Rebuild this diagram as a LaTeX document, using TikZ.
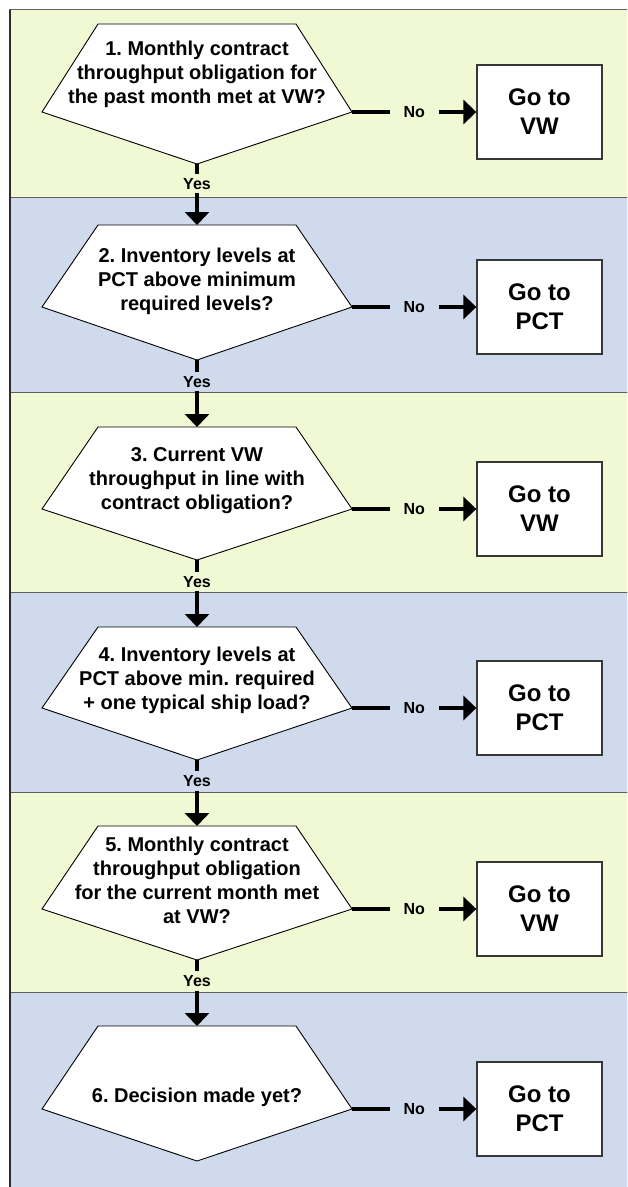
\documentclass[tikz,border=0pt]{standalone}
\usepackage{fontspec}
\setmainfont{Liberation Sans}
\usetikzlibrary{arrows.meta}
\definecolor{pgreen}{RGB}{240,249,211}
\definecolor{pblue}{RGB}{207,219,236}
\definecolor{frameline}{RGB}{95,95,95}
\definecolor{boxline}{RGB}{55,55,55}
\frenchspacing
\newcommand\decisionpanel[6]{%
  \draw[decision] (98,#2) -- (296,#2) -- (352,#3) -- (197,#4) -- (42,#3) -- cycle;
  \coordinate (#1-t) at (197,#2);
  \coordinate (#1-r) at (352,#3);
  \coordinate (#1-b) at (197,#4);
  \node[qtext] (#1) at (197,#5) {#6};
}
\begin{document}
\begin{tikzpicture}[x=1pt,y=-1pt,
  panel/.style={draw=frameline,line width=1.5pt},
  decision/.style={draw=black,fill=white,line width=0.9pt,line join=miter},
  qtext/.style={align=center,font=\fontsize{20}{24}\selectfont\bfseries,inner sep=0pt},
  gobox/.style={draw=boxline,fill=white,line width=1.3pt,minimum width=125pt,minimum height=94pt,inner sep=0pt,align=center,font=\fontsize{24}{29}\selectfont\bfseries},
  conn/.style={line width=4.5pt,-{Triangle[width=24pt,length=13pt]}},
  lbl/.style={font=\fontsize{16}{19}\selectfont\bfseries,inner xsep=14pt,inner ysep=4pt,text height=11.5pt,text depth=0pt},
]
\useasboundingbox (0,0) rectangle (627,1187);
\clip (0,0) rectangle (627,1187);
\fill[white] (0,0) rectangle (627,1187);
% panels
\filldraw[panel,fill=pgreen] (9.5,9.5) rectangle (660,197.7);
\filldraw[panel,fill=pblue] (9.5,197.7) rectangle (660,392.7);
\filldraw[panel,fill=pgreen] (9.5,392.7) rectangle (660,592.7);
\filldraw[panel,fill=pblue] (9.5,592.7) rectangle (660,792.7);
\filldraw[panel,fill=pgreen] (9.5,792.7) rectangle (660,992.7);
\filldraw[panel,fill=pblue] (9.5,992.7) rectangle (660,1220);
\draw[line width=2pt,draw={rgb,255:red,45;green,45;blue,45}] (9.5,9.5) -- (9.5,1220);
% decisions
\decisionpanel{d1}{24}{112}{164}{74}{1. Monthly contract\\throughput obligation for\\the past month met at VW?}
\decisionpanel{d2}{225}{307}{360}{281}{2. Inventory levels at\\PCT above minimum\\required levels?}
\decisionpanel{d3}{427}{509}{560}{481}{3. Current VW\\throughput in line with\\contract obligation?}
\decisionpanel{d4}{627}{708}{760}{680}{4. Inventory levels at\\PCT above min. required\\+ one typical ship load?}
\decisionpanel{d5}{826}{909}{960}{880}{5. Monthly contract\\throughput obligation\\for the current month met\\at VW?}
\decisionpanel{d6}{1026}{1109}{1161}{1097}{6. Decision made yet?}
% boxes
\node[gobox] (g1) at (539.5,112) {Go to\\VW};
\node[gobox] (g2) at (539.5,307) {Go to\\PCT};
\node[gobox] (g3) at (539.5,509) {Go to\\VW};
\node[gobox] (g4) at (539.5,708) {Go to\\PCT};
\node[gobox] (g5) at (539.5,909) {Go to\\VW};
\node[gobox] (g6) at (539.5,1109) {Go to\\PCT};
% No connectors
\draw[conn] (d1-r) -- node[lbl,fill=pgreen]{No} (g1.west);
\draw[conn] (d2-r) -- node[lbl,fill=pblue]{No} (g2.west);
\draw[conn] (d3-r) -- node[lbl,fill=pgreen]{No} (g3.west);
\draw[conn] (d4-r) -- node[lbl,fill=pblue]{No} (g4.west);
\draw[conn] (d5-r) -- node[lbl,fill=pgreen]{No} (g5.west);
\draw[conn] (d6-r) -- node[lbl,fill=pblue]{No} (g6.west);
% Yes connectors
\draw[conn] (d1-b) -- node[lbl,fill=pgreen,pos=0.32]{Yes} (d2-t);
\draw[conn] (d2-b) -- node[lbl,fill=pblue,pos=0.32]{Yes} (d3-t);
\draw[conn] (d3-b) -- node[lbl,fill=pgreen,pos=0.32]{Yes} (d4-t);
\draw[conn] (d4-b) -- node[lbl,fill=pblue,pos=0.32]{Yes} (d5-t);
\draw[conn] (d5-b) -- node[lbl,fill=pgreen,pos=0.32]{Yes} (d6-t);
\end{tikzpicture}
\end{document}
